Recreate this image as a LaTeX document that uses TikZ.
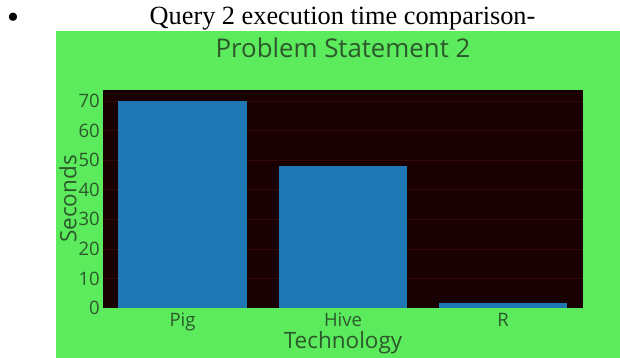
\documentclass[tikz,border=0pt]{standalone}
\usepackage{fontspec}
\setmainfont{Liberation Serif}
\newfontfamily\plotfont{Open Sans}
\usepackage{tikz}
\colorlet{paper}{white}
\definecolor{plotgreen}{RGB}{92,235,92}
\definecolor{plotbg}{RGB}{24,0,3}
\definecolor{gridred}{RGB}{48,8,8}
\definecolor{barblue}{RGB}{31,119,180}
\definecolor{labelgreen}{RGB}{44,88,44}

\begin{document}
\begin{tikzpicture}[
    x=1pt, y=1pt,
    bar/.style={fill=barblue, draw=none},
    gridline/.style={gridred, line width=0.6pt},
    ticklabel/.style={text=labelgreen, inner sep=0pt, font=\plotfont\fontsize{18.5}{18.5}\selectfont},
    axistitle/.style={text=labelgreen, inner sep=0pt, font=\plotfont\fontsize{22.5}{22.5}\selectfont}
    ]

\useasboundingbox[fill=paper] (0,0) rectangle (620,358);

% heading above the chart
\node[anchor=base, inner sep=0pt, font=\fontsize{34}{34}\selectfont] (bullet) at (13,329.5) {•};
\node[anchor=base, inner sep=0pt, font=\fontsize{26.3}{26.3}\selectfont] (heading) at (342.5,333) {Query 2 execution time comparison-};

% chart paper and plot area
\fill[plotgreen] (56,0) rectangle (620,327);
\fill[plotbg] (103,50) rectangle (583,268);

\begin{scope}[shift={(103,50)}, y=2.957pt]
    \foreach \v in {10,20,...,70}
        \draw[gridline] (0,\v) -- (480,\v);
    \foreach \v in {0,10,...,70}
        \node[ticklabel, anchor=east] (ytick\v) at (-3,\v) {\v};

    \fill[bar] (15,0) rectangle (144,70);
    \fill[bar] (176,0) rectangle (304,48);
    \fill[bar] (336,0) rectangle (464,1.7);
\end{scope}

\node[ticklabel, anchor=base] (pig) at (182.5,31) {Pig};
\node[ticklabel, anchor=base] (hive) at (343,31) {Hive};
\node[ticklabel, anchor=base] (r) at (503,31) {R};

\node[axistitle, anchor=base] (xtitle) at (343,9) {Technology};
\node[axistitle, rotate=90] (ytitle) at (68,159) {Seconds};
\node[axistitle, anchor=base, font=\plotfont\fontsize{25.8}{25.8}\selectfont] (title) at (343,300) {Problem Statement 2};

\end{tikzpicture}
\end{document}
